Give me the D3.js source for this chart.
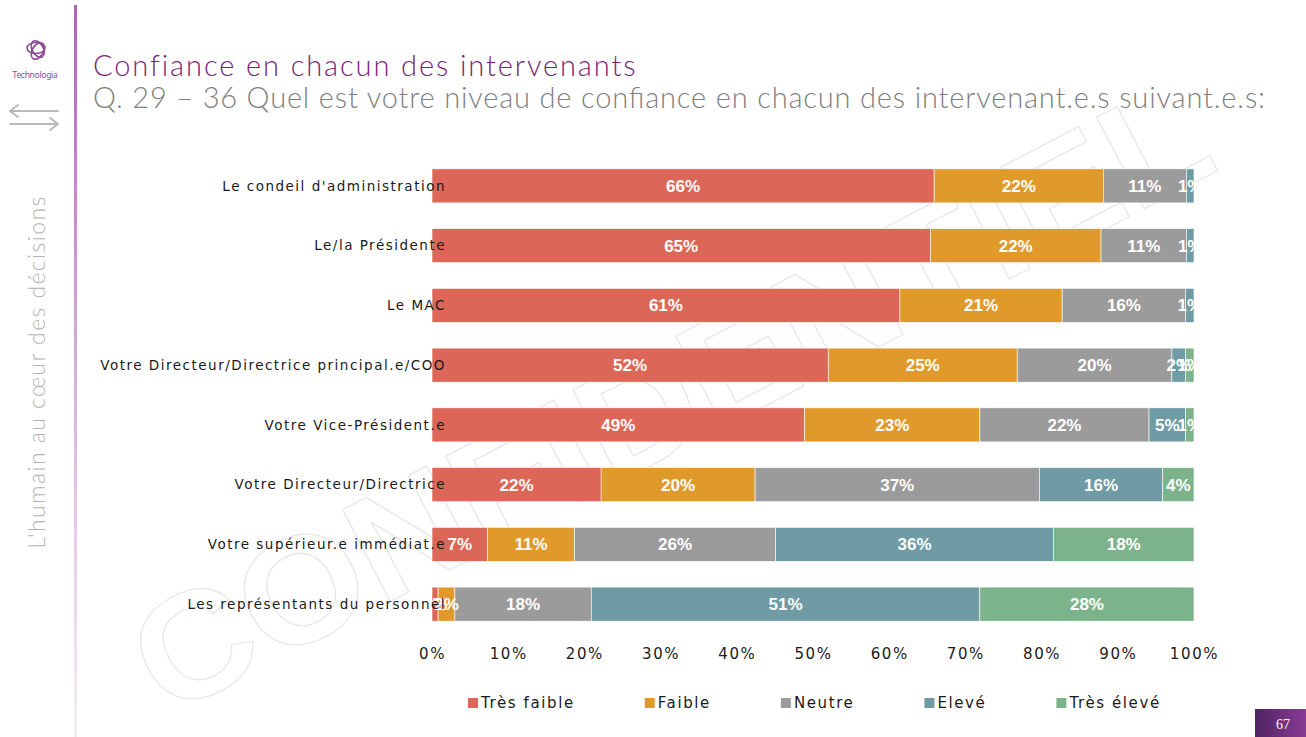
<!DOCTYPE html>
<html>
<head>
<meta charset="utf-8">
<script src="https://cdn.jsdelivr.net/npm/d3@7"></script>
<style>
  body { margin: 0; background: #fff; }
  svg { display: block; }
</style>
</head>
<body>
<div id="chart"></div>
<script>

const categories = [
  "Le condeil d'administration",
  "Le/la Présidente",
  "Le MAC",
  "Votre Directeur/Directrice principal.e/COO",
  "Votre Vice-Président.e",
  "Votre Directeur/Directrice",
  "Votre supérieur.e immédiat.e",
  "Les représentants du personnel"
];
const seriesNames = ["Très faible", "Faible", "Neutre", "Elevé", "Très élevé"];
const tresFaible = [65.9, 65.4, 61.4, 52.0, 48.9, 22.2, 7.3, 0.8];
const faible     = [22.2, 22.4, 21.3, 24.8, 23.0, 20.2, 11.4, 2.2];
const neutre     = [10.9, 11.2, 16.2, 20.3, 22.2, 37.3, 26.4, 17.9];
const eleve      = [1.0, 1.0, 1.1, 1.8, 4.8, 16.2, 36.45, 51.0];
const tresEleve  = [0, 0, 0, 1.1, 1.1, 4.1, 18.45, 28.1];
const tickValues = [0, 10, 20, 30, 40, 50, 60, 70, 80, 90, 100];
const colors = ["#dc6758", "#e09a2c", "#9b9b9b", "#6e9ba4", "#7db38a"];

const width = 1306, height = 737;
const x0 = 432, x1 = 1194;

const svg = d3.select("#chart").append("svg")
  .attr("width", width).attr("height", height);

const defs = svg.append("defs");
const lineGrad = defs.append("linearGradient").attr("id", "lineGrad")
  .attr("x1", 0).attr("y1", 0).attr("x2", 0).attr("y2", 1);
lineGrad.append("stop").attr("offset", "0%").attr("stop-color", "#a868b0");
lineGrad.append("stop").attr("offset", "55%").attr("stop-color", "#d8b8dc");
lineGrad.append("stop").attr("offset", "100%").attr("stop-color", "#f6eef7");
const pageGrad = defs.append("linearGradient").attr("id", "pageGrad")
  .attr("x1", 0).attr("y1", 0).attr("x2", 1).attr("y2", 0);
pageGrad.append("stop").attr("offset", "0%").attr("stop-color", "#4e2461");
pageGrad.append("stop").attr("offset", "100%").attr("stop-color", "#8a3a94");
defs.append("clipPath").attr("id", "plotClip")
  .append("rect").attr("x", 0).attr("y", 0).attr("width", x1).attr("height", height);

// Watermark
svg.append("text")
  .attr("transform", "translate(676,408) rotate(-27.5)")
  .attr("text-anchor", "middle")
  .attr("dominant-baseline", "middle")
  .attr("font-family", "Liberation Sans, Arial, sans-serif")
  .attr("font-weight", "bold")
  .attr("font-size", 150)
  .attr("textLength", 1190)
  .attr("lengthAdjust", "spacingAndGlyphs")
  .attr("fill", "none")
  .attr("stroke", "#e8e8e8")
  .attr("stroke-width", 1.3)
  .text("CONFIDENTIEL");

// Side decoration
svg.append("rect").attr("x", 74).attr("y", 5).attr("width", 3).attr("height", 732)
  .attr("fill", "url(#lineGrad)");

const logo = svg.append("g").attr("transform", "translate(36,50)")
  .attr("fill", "none").attr("stroke", "#8e4a98").attr("stroke-width", 1.6);
[0, 60, 120].forEach(a => {
  logo.append("ellipse").attr("rx", 9).attr("ry", 5.5)
    .attr("transform", `rotate(${a}) translate(0,-2)`);
});
svg.append("text").attr("x", 35).attr("y", 78).attr("text-anchor", "middle")
  .attr("font-family", "Noto Sans, sans-serif").attr("font-size", 8.5)
  .attr("fill", "#8e4a98").attr("letter-spacing", -0.3).text("Technologia");

const arrows = svg.append("g").attr("stroke", "#b9b9b9").attr("stroke-width", 2)
  .attr("fill", "none").attr("stroke-linecap", "round");
arrows.append("path").attr("d", "M58,111 H10 M10,111 L18,105 M10,111 L18,117");
arrows.append("path").attr("d", "M10,124 H58 M58,124 L50,118 M58,124 L50,130");

svg.append("text")
  .attr("transform", "translate(45,372) rotate(-90)")
  .attr("text-anchor", "middle")
  .attr("font-family", "Lato, Noto Sans, sans-serif")
  .attr("font-weight", 300)
  .attr("font-size", 23)
  .attr("letter-spacing", 1.4)
  .attr("fill", "#b3b3b3")
  .text("L'humain au cœur des décisions");

// Title
svg.append("text").attr("x", 93).attr("y", 76)
  .attr("font-family", "Lato, Noto Sans, sans-serif").attr("font-weight", 300)
  .attr("font-size", 29).attr("fill", "#7a1f78").attr("letter-spacing", 1.9)
  .text("Confiance en chacun des intervenants");
svg.append("text").attr("x", 93).attr("y", 108)
  .attr("font-family", "Lato, Noto Sans, sans-serif").attr("font-weight", 300)
  .attr("font-size", 29).attr("fill", "#7f7f7f")
  .attr("textLength", 1172).attr("lengthAdjust", "spacing")
  .text("Q. 29 – 36 Quel est votre niveau de confiance en chacun des intervenant.e.s suivant.e.s:");

// Chart
const series = [tresFaible, faible, neutre, eleve, tresEleve];
const rows = categories.map((c, i) => {
  const r = { cat: c };
  seriesNames.forEach((s, j) => { r[s] = series[j][i]; });
  return r;
});
const stacked = d3.stack().keys(seriesNames)(rows);

const x = d3.scaleLinear().domain([0, 100]).range([x0, x1]);
const y = d3.scaleBand().domain(categories).range([156, 634])
  .paddingInner(0.43).paddingOuter(0.215);
const color = d3.scaleOrdinal().domain(seriesNames).range(colors);

const layers = svg.append("g").selectAll("g")
  .data(stacked).enter().append("g")
  .attr("fill", d => color(d.key));

layers.selectAll("rect")
  .data(d => d).enter().append("rect")
  .attr("x", d => x(d[0]))
  .attr("y", d => y(d.data.cat))
  .attr("width", d => x(d[1]) - x(d[0]))
  .attr("height", y.bandwidth())
  .attr("stroke", "#fff").attr("stroke-width", 0.6);

const labels = svg.append("g").attr("clip-path", "url(#plotClip)");
stacked.forEach(layer => {
  labels.selectAll(null)
    .data(layer.filter(d => d[1] - d[0] > 0)).enter().append("text")
    .attr("x", d => x((d[0] + d[1]) / 2))
    .attr("y", d => y(d.data.cat) + y.bandwidth() / 2)
    .attr("dy", "0.36em")
    .attr("text-anchor", "middle")
    .attr("font-family", "Liberation Sans, Arial, sans-serif")
    .attr("font-weight", "bold")
    .attr("font-size", 17)
    .attr("fill", "#fff")
    .text(d => Math.round(d[1] - d[0]) + "%");
});

// Category labels (drawn over bars, as in the original)
svg.append("g").selectAll("text")
  .data(categories).enter().append("text")
  .attr("x", 446)
  .attr("y", d => y(d) + y.bandwidth() / 2)
  .attr("dy", "0.35em")
  .attr("text-anchor", "end")
  .attr("font-family", "DejaVu Sans, sans-serif")
  .attr("font-size", 13.5)
  .attr("letter-spacing", 1.5)
  .attr("fill", "#1a1a1a")
  .text(d => d);

// X axis
const xAxis = svg.append("g").attr("transform", "translate(0,642)")
  .call(d3.axisBottom(x).tickValues(tickValues).tickSize(0).tickPadding(6)
    .tickFormat(d => d + "%"));
xAxis.select(".domain").remove();
xAxis.selectAll("text")
  .attr("font-family", "DejaVu Sans, sans-serif")
  .attr("font-size", 15)
  .attr("letter-spacing", 1.6)
  .attr("fill", "#1a1a1a");

// Legend
const legend = svg.append("g").attr("transform", "translate(468,703)");
let lx = 0;
seriesNames.forEach((s, i) => {
  const item = legend.append("g").attr("transform", `translate(${lx},0)`);
  item.append("rect").attr("x", 0).attr("y", -5).attr("width", 10).attr("height", 10)
    .attr("fill", color(s));
  const t = item.append("text").attr("x", 13).attr("dy", "0.36em")
    .attr("font-family", "DejaVu Sans, sans-serif")
    .attr("font-size", 15).attr("letter-spacing", 1.6)
    .attr("fill", "#1a1a1a").text(s);
  lx += 13 + t.node().getComputedTextLength() + 70;
});

// Page number
svg.append("rect").attr("x", 1255).attr("y", 709).attr("width", 51).attr("height", 28)
  .attr("fill", "url(#pageGrad)");
svg.append("text").attr("x", 1283).attr("y", 729).attr("text-anchor", "middle")
  .attr("font-family", "Liberation Serif, serif").attr("font-size", 14)
  .attr("fill", "#fff").text("67");

</script>
</body>
</html>
